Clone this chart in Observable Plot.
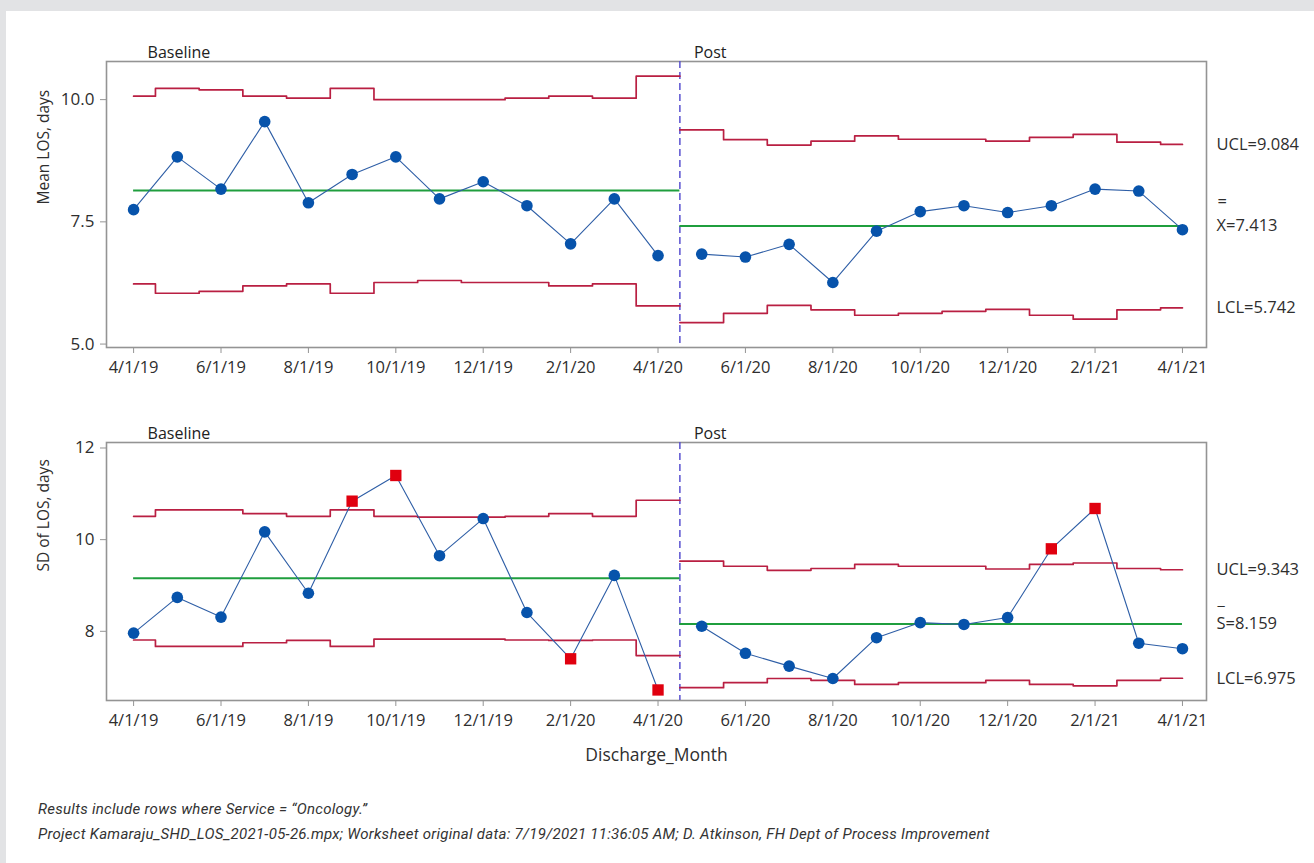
<!DOCTYPE html>
<html>
<head>
<meta charset="utf-8">
<script src="https://cdn.jsdelivr.net/npm/d3@7"></script>
<script src="https://cdn.jsdelivr.net/npm/@observablehq/plot@0.6"></script>
<style>
  html, body { margin: 0; padding: 0; }
  body { width: 1314px; height: 863px; background: #e2e3e5; position: relative; overflow: hidden; }
  #panel { position: absolute; left: 6px; top: 11px; width: 1308px; height: 852px; background: #ffffff; }
  #top, #bottom { position: absolute; left: 0; }
  #top { top: 0; }
  #bottom { top: 380px; }
  #notes { position: absolute; left: 32px; top: 786px; font-family: Roboto, "Liberation Sans", sans-serif;
           font-style: italic; font-size: 15px; color: #333; line-height: 25px; letter-spacing: 0.28px; }
</style>
</head>
<body>
<div id="panel">
  <div id="top"></div>
  <div id="bottom"></div>
  <div id="notes">
    <div>Results include rows where Service = “Oncology.”</div>
    <div>Project Kamaraju_SHD_LOS_2021-05-26.mpx; Worksheet original data: 7/19/2021 11:36:05 AM; D. Atkinson, FH Dept of Process Improvement</div>
  </div>
</div>
<script>
// Discharge months (subgroups) and their study phase
const months = ["4/1/19","5/1/19","6/1/19","7/1/19","8/1/19","9/1/19","10/1/19","11/1/19","12/1/19","1/1/20","2/1/20","3/1/20","4/1/20",
                "5/1/20","6/1/20","7/1/20","8/1/20","9/1/20","10/1/20","11/1/20","12/1/20","1/1/21","2/1/21","3/1/21","4/1/21"];
const phases = ["Baseline", "Post"];
const phaseOf = [...Array(13).fill("Baseline"), ...Array(12).fill("Post")];

// Xbar chart: monthly mean LOS with per-month control limits
const meanLOS = [7.75, 8.83, 8.17, 9.55, 7.89, 8.47, 8.83, 7.97, 8.32, 7.83, 7.05, 7.97, 6.81,
                 6.84, 6.78, 7.04, 6.26, 7.31, 7.71, 7.83, 7.69, 7.83, 8.17, 8.13, 7.34];
const meanUCL = [10.07, 10.23, 10.20, 10.07, 10.03, 10.23, 10.00, 10.00, 10.00, 10.03, 10.07, 10.03, 10.48,
                 9.38, 9.18, 9.07, 9.15, 9.26, 9.19, 9.19, 9.15, 9.23, 9.29, 9.13, 9.084];
const meanLCL = [6.23, 6.04, 6.08, 6.19, 6.23, 6.04, 6.26, 6.30, 6.26, 6.26, 6.19, 6.23, 5.78,
                 5.44, 5.63, 5.79, 5.70, 5.59, 5.63, 5.67, 5.71, 5.59, 5.51, 5.70, 5.742];
const meanCenter = [8.14, 7.413];

// S chart: monthly standard deviation of LOS with per-month control limits
const sdLOS = [7.96, 8.74, 8.31, 10.17, 8.83, 10.84, 11.40, 9.65, 10.46, 8.41, 7.40, 9.22, 6.72,
               8.11, 7.52, 7.24, 6.97, 7.86, 8.19, 8.15, 8.30, 9.80, 10.68, 7.74, 7.62];
const sdUCL = [10.51, 10.65, 10.65, 10.57, 10.51, 10.65, 10.51, 10.49, 10.49, 10.51, 10.57, 10.51, 10.86,
               9.53, 9.42, 9.33, 9.37, 9.46, 9.42, 9.42, 9.36, 9.46, 9.49, 9.37, 9.343];
const sdLCL = [7.81, 7.67, 7.67, 7.75, 7.80, 7.67, 7.83, 7.83, 7.83, 7.81, 7.80, 7.81, 7.47,
               6.77, 6.88, 6.97, 6.93, 6.84, 6.88, 6.88, 6.93, 6.84, 6.81, 6.93, 6.975];
const sdCenter = [9.16, 8.159];

const xTicks = d3.range(0, months.length, 2);

const COLORS = {limit: "#b91f42", center: "#1f9e3e", line: "#2e5ea6", dot: "#0753ab", flag: "#e0000f",
                phase: "#5a52d0", frame: "#949494", text: "#2e2e2e"};
const FONT = "'Open Sans', 'Noto Sans', sans-serif";

// Rows for one chart
function rows(values, ucl, lcl) {
  return months.map((m, i) => ({i, month: m, phase: phaseOf[i], v: values[i], ucl: ucl[i], lcl: lcl[i],
                                flag: values[i] > ucl[i] || values[i] < lcl[i]}));
}

// Each phase's limit line extends half a subgroup to the phase boundary
function stepRows(data, key) {
  const out = [];
  phases.forEach((p, k) => {
    const sub = data.filter(d => d.phase === p);
    const first = sub[0], last = sub[sub.length - 1];
    if (k > 0) out.push({i: first.i - 0.5, v: first[key], phase: p});
    for (const d of sub) out.push({i: d.i, v: d[key], phase: p});
    if (k < phases.length - 1) out.push({i: last.i + 0.5, v: last[key], phase: p});
  });
  return out;
}

function phaseSpans(data, centers) {
  return phases.map((p, k) => {
    const sub = data.filter(d => d.phase === p);
    return {phase: p, center: centers[k],
            x1: k > 0 ? sub[0].i - 0.5 : sub[0].i,
            x2: k < phases.length - 1 ? sub[sub.length - 1].i + 0.5 : sub[sub.length - 1].i};
  });
}

function controlChart({values, ucl, lcl, centers, yDomain, yTicks, yFormat, yTitle, centerBar, centerName,
                       height, marginTop, marginBottom, xTitle}) {
  const data = rows(values, ucl, lcl);
  const spans = phaseSpans(data, centers);
  const last = data[data.length - 1];
  const boundaries = spans.slice(1).map(s => s.x1);
  const fmt = d3.format(".3f");
  const labelStyle = {textAnchor: "start", dx: 34, fontSize: 16.5, fill: COLORS.text, letterSpacing: "0.4px"};
  const marks = [
    Plot.frame({stroke: COLORS.frame, strokeWidth: 1.6}),
    Plot.axisX({ticks: xTicks, tickFormat: i => months[i], tickSize: 6, tickPadding: 8,
                stroke: COLORS.frame, fill: COLORS.text, fontSize: 16.5, label: null}),
    Plot.axisY({ticks: yTicks, tickFormat: yFormat, tickSize: 6, tickPadding: 6,
                stroke: COLORS.frame, fill: COLORS.text, fontSize: 17, label: null}),
    Plot.text([yTitle], {frameAnchor: "left", rotate: -90, dx: -62, fontSize: 15.5, fill: COLORS.text}),
    Plot.ruleX(boundaries, {stroke: COLORS.phase, strokeWidth: 1.5, strokeDasharray: "7,4"}),
    Plot.line(stepRows(data, "ucl"), {x: "i", y: "v", z: "phase", curve: "step", stroke: COLORS.limit, strokeWidth: 1.7}),
    Plot.line(stepRows(data, "lcl"), {x: "i", y: "v", z: "phase", curve: "step", stroke: COLORS.limit, strokeWidth: 1.7}),
    Plot.ruleY(spans, {y: "center", x1: "x1", x2: "x2", stroke: COLORS.center, strokeWidth: 2}),
    Plot.line(data, {x: "i", y: "v", z: "phase", stroke: COLORS.line, strokeWidth: 1.1}),
    Plot.dot(data.filter(d => !d.flag), {x: "i", y: "v", r: 5.8, fill: COLORS.dot}),
    Plot.dot(data.filter(d => d.flag), {x: "i", y: "v", symbol: "square", r: 6.4, fill: COLORS.flag}),
    // phase names above the frame
    Plot.text(spans, {x: "x1", text: "phase", frameAnchor: "top", textAnchor: "start", dx: 14, dy: -15,
                      fontSize: 16, fill: "#222"}),
    // limit labels for the latest phase, to the right of the frame
    Plot.text([last], {x: "i", y: "ucl", text: d => `UCL=${fmt(d.ucl)}`, ...labelStyle}),
    Plot.text([last], {x: "i", y: "lcl", text: d => `LCL=${fmt(d.lcl)}`, ...labelStyle}),
    Plot.text([spans[spans.length - 1]], {x: () => last.i, y: "center",
                       text: d => `${centerName}=${fmt(d.center)}`, ...labelStyle}),
    Plot.text([spans[spans.length - 1]], {x: () => last.i, y: "center", text: () => centerBar,
                       ...labelStyle, dx: 35, dy: -24})
  ];
  if (xTitle) marks.push(Plot.text([xTitle], {frameAnchor: "bottom", dy: 60, fontSize: 17.5, fill: COLORS.text}));
  return Plot.plot({
    width: 1308, height,
    marginLeft: 100, marginRight: 108, marginTop, marginBottom,
    style: {fontFamily: FONT, fontSize: "16px", color: COLORS.text, background: "transparent"},
    x: {type: "linear", domain: [-0.62, 24.55]},
    y: {domain: yDomain},
    marks
  });
}

document.getElementById("top").append(controlChart({
  values: meanLOS, ucl: meanUCL, lcl: meanLCL, centers: meanCenter,
  yDomain: [4.93, 10.78], yTicks: [5, 7.5, 10], yFormat: d3.format(".1f"), yTitle: "Mean LOS, days",
  centerBar: "=", centerName: "X", height: 380, marginTop: 50, marginBottom: 44
}));

document.getElementById("bottom").append(controlChart({
  values: sdLOS, ucl: sdUCL, lcl: sdLCL, centers: sdCenter,
  yDomain: [6.49, 12.12], yTicks: [8, 10, 12], yFormat: d3.format("d"), yTitle: "SD of LOS, days",
  centerBar: "_", centerName: "S", height: 400, marginTop: 51, marginBottom: 91, xTitle: "Discharge_Month"
}));
</script>
</body>
</html>
